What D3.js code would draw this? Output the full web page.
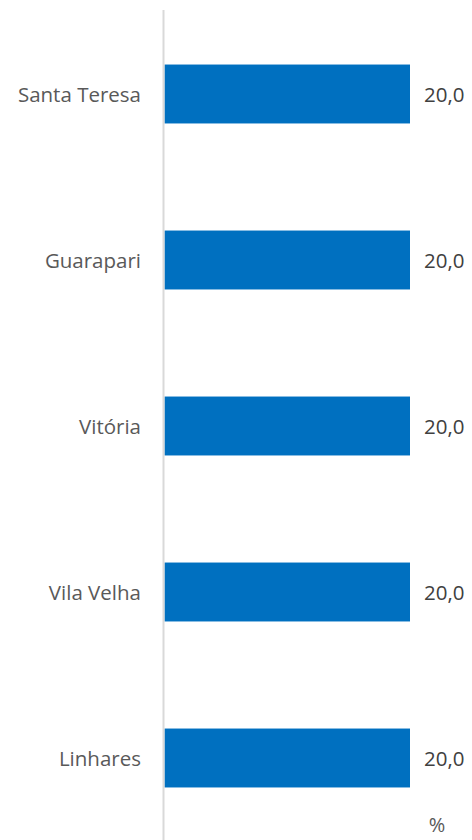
<!DOCTYPE html>
<html><head><meta charset="utf-8">
<script src="https://cdn.jsdelivr.net/npm/d3@7"></script>
<style>body{margin:0;background:#fff}svg{display:block}text{font-family:"Open Sans","Noto Sans",sans-serif}</style>
</head><body>
<script>
const categories = ["Santa Teresa","Guarapari","Vitória","Vila Velha","Linhares"];
const values = [20.0,20.0,20.0,20.0,20.0];
const unitLabel = "%";

const W=472,H=840;
const svg=d3.select("body").append("svg").attr("width",W).attr("height",H);
const y=d3.scaleBand().domain(categories).range([11,841]).paddingInner(0.645).paddingOuter(0.3225);
const x=d3.scaleLinear().domain([0,20]).range([164.5,410]);

svg.append("g").selectAll("rect").data(categories).join("rect")
  .attr("x",x(0)).attr("y",d=>y(d)).attr("width",(d,i)=>x(values[i])-x(0)).attr("height",y.bandwidth())
  .attr("fill","#0070C0");

svg.append("line").attr("x1",163.5).attr("x2",163.5).attr("y1",10).attr("y2",840)
  .attr("stroke","#d9d9d9").attr("stroke-width",2);

svg.append("g").selectAll("text").data(categories).join("text")
  .attr("x",141).attr("y",d=>y(d)+y.bandwidth()/2).attr("dy","0.37em")
  .attr("text-anchor","end").attr("fill","#595959").attr("font-size",20.5).text(d=>d);

svg.append("g").selectAll("text").data(categories).join("text")
  .attr("x",(d,i)=>x(values[i])+14).attr("y",d=>y(d)+y.bandwidth()/2).attr("dy","0.37em")
  .attr("fill","#404040").attr("font-size",20.5).text((d,i)=>d3.format(".1f")(values[i]).replace(".",","));

svg.append("text").attr("x",437).attr("y",832).attr("text-anchor","middle")
  .attr("fill","#595959").attr("font-size",20).text(unitLabel);
</script>
</body></html>
